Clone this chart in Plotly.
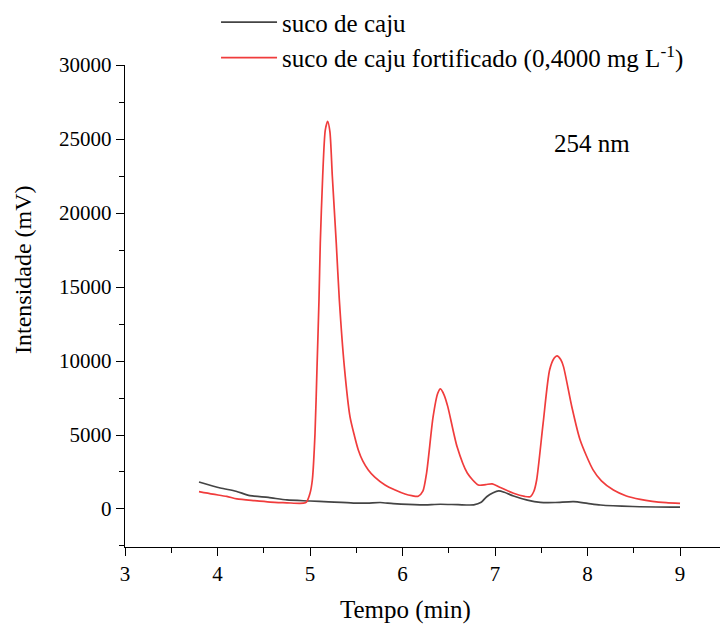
import plotly.graph_objects as go

# Retention time (min) and detector response (mV) at 254 nm
t_suco = [3.80, 4.03, 4.20, 4.35, 4.55, 4.75, 5.00, 5.20, 5.47, 5.62, 5.76, 5.90,
          6.19, 6.41, 6.60, 6.77, 6.85, 6.91, 6.98, 7.04, 7.10, 7.20, 7.35, 7.49,
          7.65, 7.85, 8.00, 8.14, 8.49, 9.00]
i_suco = [1825, 1420, 1200, 900, 780, 610, 540, 480, 400, 400, 440, 360,
          280, 320, 290, 280, 450, 830, 1100, 1220, 1130, 880, 600, 450,
          440, 500, 380, 270, 170, 120]

t_fort = [3.80, 3.95, 4.10, 4.21, 4.40, 4.57, 4.75, 4.89, 4.95, 4.964, 5.00, 5.025,
          5.054, 5.076, 5.097, 5.111, 5.137, 5.165, 5.191, 5.215, 5.241, 5.284,
          5.317, 5.371, 5.432, 5.48, 5.522, 5.57, 5.630, 5.70, 5.811, 5.92, 6.027,
          6.10, 6.17, 6.22, 6.26, 6.33, 6.38, 6.41, 6.45, 6.49, 6.59, 6.70, 6.82,
          6.90, 6.97, 7.05, 7.20, 7.32, 7.38, 7.42, 7.45, 7.52, 7.59, 7.64, 7.67,
          7.71, 7.74, 7.83, 7.92, 8.06, 8.15, 8.28, 8.42, 8.57, 8.70, 8.85, 9.00]
i_fort = [1170, 1000, 850, 680, 560, 470, 420, 380, 420, 490, 1060, 1960,
          5110, 9620, 14120, 17950, 22500, 25600, 26200, 25500, 22500, 17950,
          14120, 9620, 6240, 4950, 3990, 3250, 2640, 2150, 1620, 1280, 1010,
          900, 860, 1200, 2430, 6200, 7800, 8110, 7700, 6900, 4200, 2430, 1620,
          1650, 1700, 1470, 1060, 850, 830, 1200, 1960, 5800, 9390, 10200, 10350,
          10100, 9620, 6910, 4660, 2640, 1900, 1280, 880, 650, 520, 430, 380]

x_ticks = [3, 4, 5, 6, 7, 8, 9]
y_ticks = [0, 5000, 10000, 15000, 20000, 25000, 30000]

FONT = "Liberation Serif"

fig = go.Figure()
fig.add_trace(go.Scatter(
    x=t_suco, y=i_suco, mode="lines", name="suco de caju",
    line=dict(color="#444444", width=1.7, shape="spline", smoothing=0.7),
    legendgroup="a"))
fig.add_trace(go.Scatter(
    x=t_fort, y=i_fort, mode="lines",
    name="suco de caju fortificado (0,4000 mg L<sup>-1</sup>)",
    line=dict(color="#f03c3c", width=1.7, shape="spline", smoothing=0.7),
    legendgroup="b"))

fig.add_annotation(x=8.05, y=24700, text="254 nm", showarrow=False,
                   font=dict(family=FONT, size=25, color="black"))

# Axis titles placed as paper-anchored text
fig.add_annotation(xref="paper", yref="paper", x=0.472, y=-0.1307,
                   text="Tempo (min)", showarrow=False,
                   xanchor="center", yanchor="middle",
                   font=dict(family=FONT, size=25, color="black"))
fig.add_annotation(xref="paper", yref="paper", x=-0.1714, y=0.5747,
                   text="Intensidade (mV)", showarrow=False, textangle=-90,
                   xanchor="center", yanchor="middle",
                   font=dict(family=FONT, size=24, color="black"))

axis_common = dict(
    showgrid=False, zeroline=False, showline=True, linecolor="black",
    linewidth=1.4, ticks="outside", ticklen=8, tickwidth=1.4, tickcolor="black",
    tickfont=dict(family=FONT, size=21, color="black"), mirror=False,
)

fig.update_xaxes(
    range=[3, 9.432], tickvals=x_ticks, ticktext=[str(v) for v in x_ticks],
    minor=dict(dtick=0.5, tick0=3, ticks="outside", ticklen=5, tickwidth=1.4,
               tickcolor="black"),
    **axis_common)
fig.update_yaxes(
    range=[-2568, 30000], tickvals=y_ticks, ticktext=[str(v) for v in y_ticks],
    minor=dict(dtick=2500, tick0=0, ticks="outside", ticklen=5, tickwidth=1.4,
               tickcolor="black"),
    **axis_common)

fig.update_layout(
    width=720, height=627,
    margin=dict(l=125, r=0, t=65, b=80, autoexpand=False),
    plot_bgcolor="white", paper_bgcolor="white",
    font=dict(family=FONT, color="black"),
    legend=dict(
        x=0.153, y=1.136, xanchor="left", yanchor="top",
        font=dict(family=FONT, size=25, color="black"),
        bgcolor="rgba(0,0,0,0)", traceorder="grouped", tracegroupgap=0,
        itemwidth=56,
    ),
)

fig.write_html("out.html")
